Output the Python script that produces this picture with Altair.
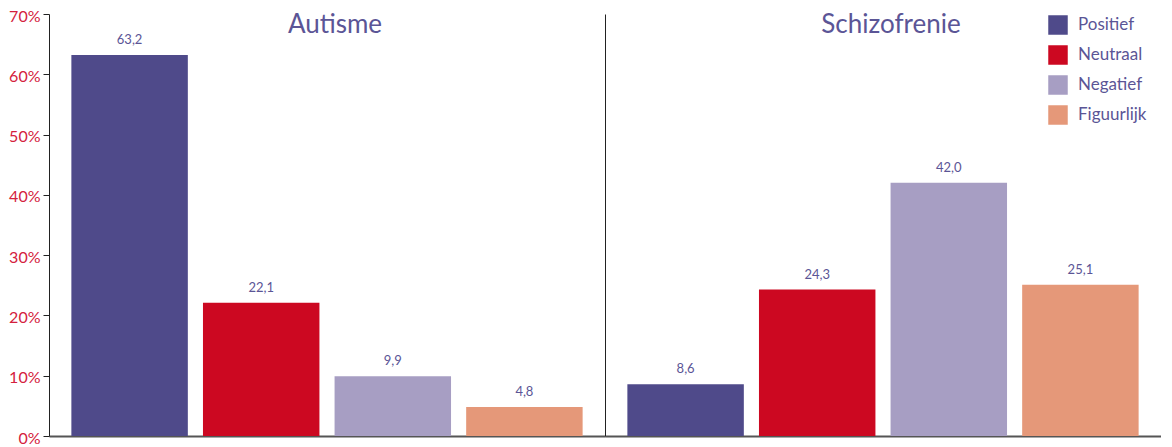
import altair as alt
import pandas as pd

categories = ["Positief", "Neutraal", "Negatief", "Figuurlijk"]
colors = ["#4f4a8a", "#cc0821", "#a79ec3", "#e59879"]
autisme = [63.2, 22.1, 9.9, 4.8]
schizofrenie = [8.6, 24.3, 42.0, 25.1]
titles = ["Autisme", "Schizofrenie"]

FONT = "Lato"
PURPLE = "#5b5596"
RED = "#d4213d"

def make_df(vals):
    return pd.DataFrame({
        "cat": categories,
        "val": [v / 100 for v in vals],
        "label": [f"{v:.1f}".replace(".", ",") for v in vals],
    })

def panel(vals, title, first, width):
    df = make_df(vals)
    base = alt.Chart(df)
    color_legend = None
    if not first:
        color_legend = alt.Legend(
            title=None, orient="none", legendX=443, legendY=1,
            symbolType="square", symbolSize=380, symbolStrokeWidth=0,
            symbolOpacity=1, labelFontSize=17, labelColor=PURPLE,
            labelFont=FONT, rowPadding=10, labelOffset=10,
        )
    x = alt.X("cat:N", sort=categories,
              scale=alt.Scale(paddingInner=0.115, paddingOuter=0.17),
              axis=alt.Axis(title=None, labels=False, ticks=False,
                            domainColor="#555555", domainWidth=2))
    if first:
        yaxis = alt.Axis(title=None, format=".0%", values=[0, .1, .2, .3, .4, .5, .6, .7],
                         labelColor=RED, labelFontSize=16, labelFont=FONT,
                         tickColor="#222222", tickSize=6, domainColor="#222222",
                         grid=False, labelPadding=3, labelOffset=2)
    else:
        yaxis = alt.Axis(title=None, labels=False, ticks=False,
                         domainColor="#222222", grid=False)
    y = alt.Y("val:Q", scale=alt.Scale(domain=[0, 0.7]), axis=yaxis)
    bars = base.mark_bar().encode(
        x=x, y=y,
        color=alt.Color("cat:N", scale=alt.Scale(domain=categories, range=colors),
                        legend=color_legend),
    )
    text = base.mark_text(baseline="bottom", dy=-8, fontSize=13, color=PURPLE, font=FONT).encode(
        x=alt.X("cat:N", sort=categories), y="val:Q", text="label:N"
    )
    ttl = alt.Chart(pd.DataFrame({"t": [title]})).mark_text(
        fontSize=26, font=FONT, color=PURPLE, baseline="middle", align="center"
    ).encode(text="t:N", x=alt.value(width / 2 + 8), y=alt.value(11))
    return (bars + text + ttl).properties(width=width, height=422)

p1 = panel(autisme, titles[0], True, 556)
p2 = panel(schizofrenie, titles[1], False, 556)

chart = alt.hconcat(p1, p2, spacing=0).resolve_legend(color="independent").configure_view(
    stroke=None
).properties(padding={"left": 0, "top": 0, "right": 0, "bottom": 0})

chart.save("out.html", embed_options={"renderer": "svg", "actions": False})
